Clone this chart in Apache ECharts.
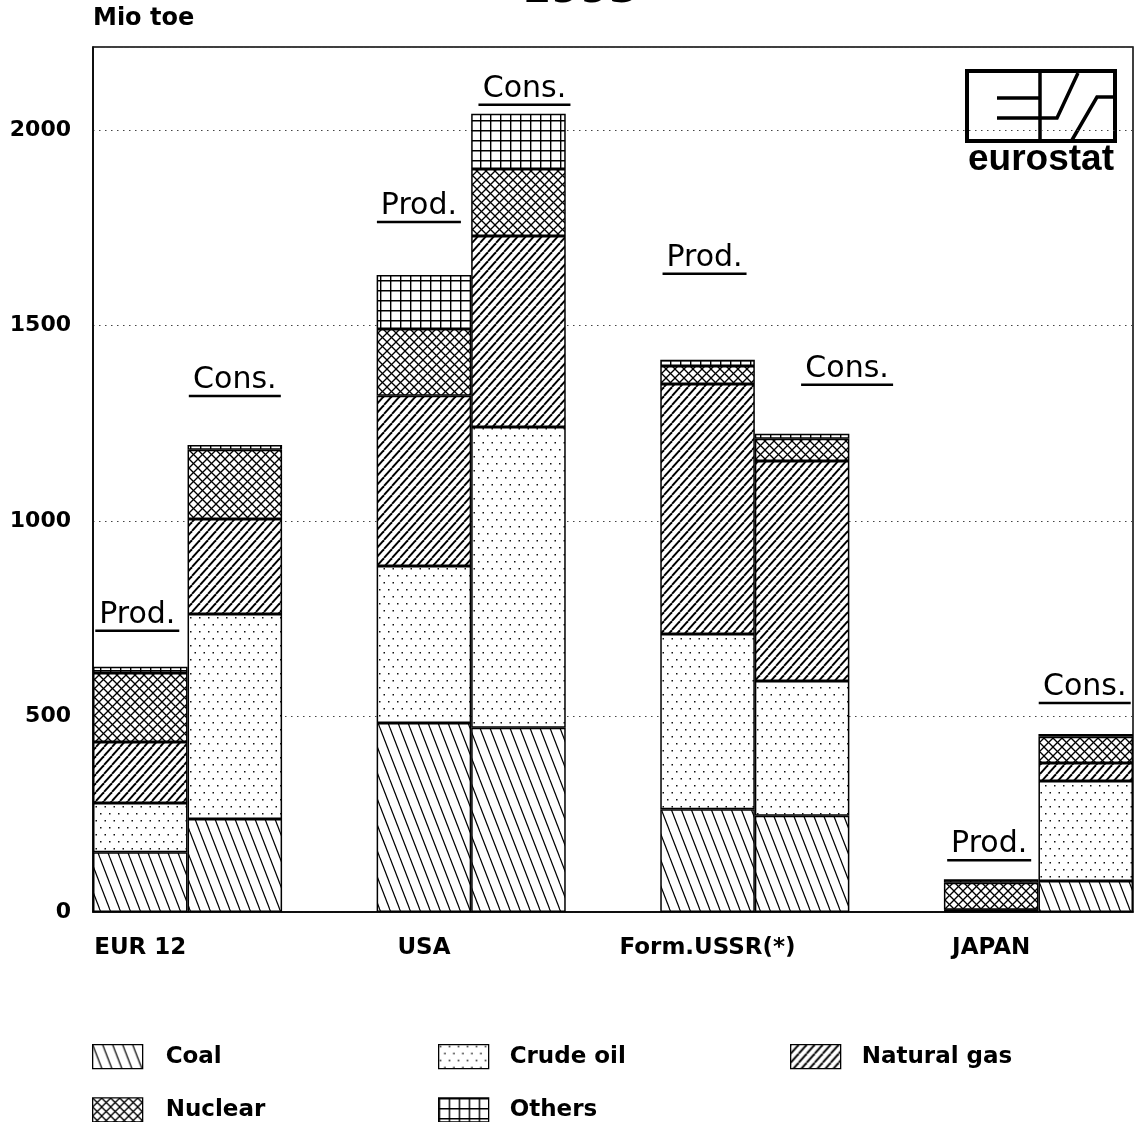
<!DOCTYPE html>
<html>
<head>
<meta charset="utf-8">
<script src="https://cdn.jsdelivr.net/npm/echarts@6/dist/echarts.min.js"></script>
<style>
html,body{margin:0;padding:0;background:#fff;}
#c{width:1136px;height:1122px;}
</style>
</head>
<body>
<div id="c"></div>
<script>
// ---- data ----
const regions = ['EUR 12', 'USA', 'Form.USSR(*)', 'JAPAN'];
const flows = ['Prod.', 'Cons.'];
// bar order: EUR P, EUR C, USA P, USA C, USSR P, USSR C, JAPAN P, JAPAN C
const coal       = [153, 238, 483, 471, 263, 246, 3, 79];
const crudeOil   = [126, 524, 402, 769, 448, 345, 1, 256];
const naturalGas = [156, 243, 435, 489, 639, 562, 2, 46];
const nuclear    = [176, 177, 171, 171, 46, 57, 69, 67];
const others     = [16, 12, 138, 141, 16, 13, 9, 7];
const fuelNames  = ['Coal', 'Crude oil', 'Natural gas', 'Nuclear', 'Others'];
const yTicks     = [0, 500, 1000, 1500, 2000];
const yMax       = 2212;
const titleText  = '1993';
const unitText   = 'Mio toe';

// ---- label placement (style only) ----
const labelOffsets = [[-3, -33], [0, -46], [-5, -50], [6, -6], [-3, -83], [45, -46], [-2, -16], [-1, -28]];

// ---- patterns ----
function mk(w, h, draw) {
  const c = document.createElement('canvas');
  c.width = w; c.height = h;
  const g = c.getContext('2d');
  g.fillStyle = '#fff'; g.fillRect(0, 0, w, h);
  g.strokeStyle = '#000'; g.fillStyle = '#000';
  draw(g, w, h);
  return { image: c, repeat: 'repeat' };
}
function diag(g, w, h, back) {
  for (let k = -1; k <= 1; k++) {
    g.beginPath();
    if (back) { g.moveTo(k * w, 0); g.lineTo(k * w + w, h); }
    else { g.moveTo(k * w, h); g.lineTo(k * w + w, 0); }
    g.stroke();
  }
}
const patterns = {
  'Coal': mk(10, 26, (g, w, h) => { g.lineWidth = 1.2; diag(g, w, h, true); }),
  'Crude oil': mk(9, 14, (g) => { g.fillStyle = '#111'; g.fillRect(1, 1, 1.5, 1.5); g.fillRect(5.5, 8, 1.5, 1.5); }),
  'Natural gas': mk(8, 9, (g, w, h) => { g.lineWidth = 1.9; diag(g, w, h, false); }),
  'Nuclear': mk(9, 9, (g, w, h) => { g.lineWidth = 1.3; diag(g, w, h, false); diag(g, w, h, true); }),
  'Others': mk(10, 10, (g) => { g.lineWidth = 1.8; g.beginPath(); g.moveTo(0.5, 0); g.lineTo(0.5, 10); g.moveTo(0, 0.5); g.lineTo(10, 0.5); g.stroke(); })
};

// ---- build slots ----
const categories = [];
const slotBar = []; // index into bar arrays or -1 for gap
regions.forEach((r, ri) => {
  flows.forEach((f, fi) => { categories.push(r + '|' + f); slotBar.push(ri * 2 + fi); });
  if (ri < regions.length - 1) { categories.push('gap' + ri); slotBar.push(-1); }
});
const fuelData = [coal, crudeOil, naturalGas, nuclear, others];

const series = fuelNames.map((name, si) => {
  const arr = fuelData[si];
  const data = slotBar.map(b => {
    if (b < 0) return '-';
    const item = { value: arr[b] };
    if (si === fuelNames.length - 1) {
      const isProd = b % 2 === 0;
      item.label = {
        show: true, position: 'top', distance: 0, offset: labelOffsets[b],
        formatter: '{t|' + flows[b % 2] + '}\n{' + (isProd ? 'up' : 'uc') + '| }'
      };
    }
    return item;
  });
  return {
    name: name, type: 'bar', stack: 'total', barWidth: '100%', barCategoryGap: 0,
    itemStyle: { color: patterns[name], borderColor: '#000', borderWidth: 1.5 },
    emphasis: { disabled: true },
    label: {
      show: false,
      rich: {
        t: { fontFamily: 'DejaVu Sans', fontSize: 30, color: '#000', lineHeight: 26, align: 'center' },
        up: { width: 84, height: 2.5, backgroundColor: '#000', lineHeight: 6, fontSize: 2 },
        uc: { width: 92, height: 2.5, backgroundColor: '#000', lineHeight: 6, fontSize: 2 }
      }
    },
    data: data
  };
});

const chart = echarts.init(document.getElementById('c'), null, { renderer: 'canvas' });
function legendText(pad) {
  return { fontFamily: 'DejaVu Sans', fontWeight: 'bold', fontSize: 23, lineHeight: 24, color: '#000', padding: [0, 0, 0, pad] };
}
const legendCommon = {
  orient: 'vertical', itemWidth: 50, itemHeight: 24, itemGap: 28, top: 1044, height: 120, padding: 0,
  icon: 'rect', selectedMode: false,
  itemStyle: { borderColor: '#000', borderWidth: 1.3 }
};
chart.setOption({
  animation: false,
  backgroundColor: '#fff',
  grid: { left: 93, right: 3, top: 47, bottom: 210, show: true, borderColor: '#000', borderWidth: 1.5, backgroundColor: 'transparent' },
  xAxis: {
    type: 'category', data: categories, boundaryGap: true,
    axisLine: { show: true, lineStyle: { color: '#000', width: 1.5 } },
    axisTick: { show: false },
    axisLabel: {
      interval: 0, margin: 25, color: '#000', fontFamily: 'DejaVu Sans', fontWeight: 'bold', fontSize: 23,
      formatter: (v, i) => (slotBar[i] >= 0 && slotBar[i] % 2 === 0) ? regions[slotBar[i] / 2] : ''
    },
    splitLine: { show: false }
  },
  yAxis: {
    type: 'value', min: 0, max: yMax, interval: 500,
    name: unitText, nameLocation: 'end', nameGap: 16,
    nameTextStyle: { align: 'left', color: '#000', fontFamily: 'DejaVu Sans', fontWeight: 'bold', fontSize: 24 },
    axisLine: { show: true, lineStyle: { color: '#000', width: 1.5 } },
    axisTick: { show: false },
    axisLabel: {
      margin: 22, color: '#000', fontFamily: 'DejaVu Sans', fontWeight: 'bold', fontSize: 22,
      formatter: v => yTicks.indexOf(v) >= 0 ? String(v) : ''
    },
    splitLine: { show: true, lineStyle: { color: '#444', type: [1.5, 4.5], width: 1 } }
  },
  legend: [
    Object.assign({}, legendCommon, { left: 92, data: ['Coal', 'Nuclear'], textStyle: legendText(18) }),
    Object.assign({}, legendCommon, { left: 438, data: ['Crude oil', 'Others'], textStyle: legendText(16) }),
    Object.assign({}, legendCommon, { left: 790, data: ['Natural gas'], textStyle: legendText(16) })
  ],
  graphic: [
    { type: 'text', z: 100, style: { text: titleText, x: 580, y: 12, align: 'center', verticalAlign: 'bottom', font: 'bold 42px "DejaVu Sans"', fill: '#000' } },
    { type: 'group', z: 100, children: [
      { type: 'rect', shape: { x: 967, y: 71, width: 148, height: 70 }, style: { fill: '#fff', stroke: '#000', lineWidth: 4 } },
      { type: 'line', shape: { x1: 1040, y1: 71, x2: 1040, y2: 141 }, style: { stroke: '#000', lineWidth: 3.5 } },
      { type: 'line', shape: { x1: 997, y1: 98, x2: 1040, y2: 98 }, style: { stroke: '#000', lineWidth: 3.5 } },
      { type: 'polyline', shape: { points: [[997, 118], [1057, 118], [1078, 73]] }, style: { stroke: '#000', lineWidth: 3.5, fill: null } },
      { type: 'polyline', shape: { points: [[1072, 140], [1097, 97], [1114, 97]] }, style: { stroke: '#000', lineWidth: 3.5, fill: null } },
      { type: 'text', style: { text: 'eurostat', x: 1041, y: 160, align: 'center', verticalAlign: 'middle', font: 'bold 37px "Liberation Sans"', fill: '#000' } }
    ] }
  ],
  series: series
});
</script>
</body>
</html>
